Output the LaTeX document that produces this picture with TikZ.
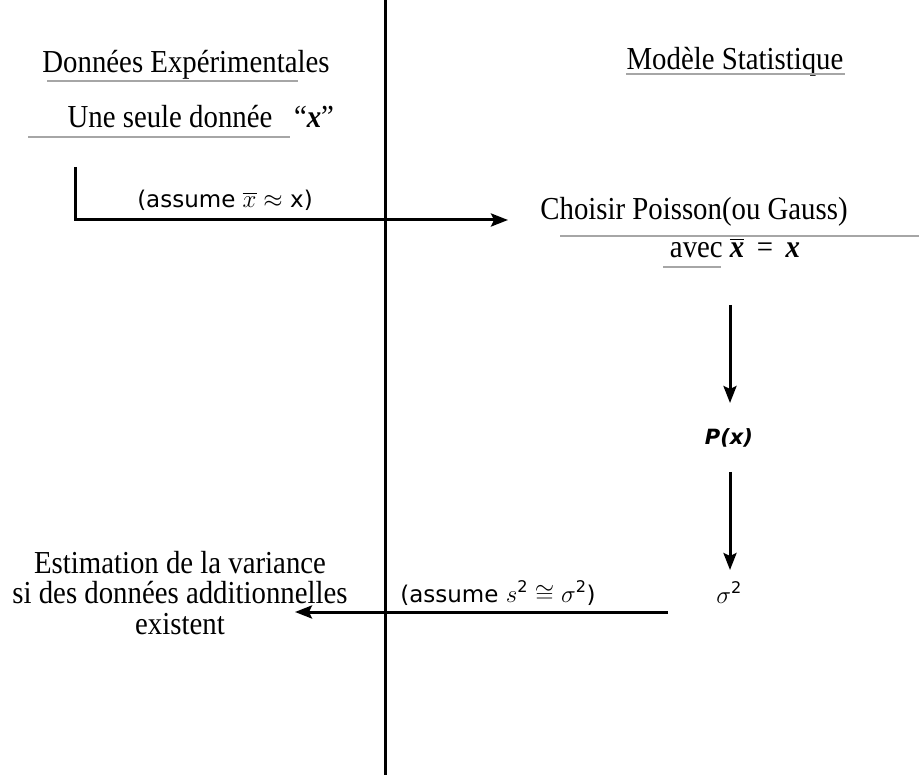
\documentclass[tikz,border=0pt]{standalone}
\usepackage{amsmath}
\usepackage{fontspec}
\setmainfont{Liberation Serif}[FakeStretch=0.9]
\setsansfont{DejaVu Sans}
\usetikzlibrary{arrows.meta}
\newcommand{\bx}{\textbf{\textit{x}}}
\begin{document}
\begin{tikzpicture}[x=1pt,y=-1pt,
  serif/.style={font=\fontsize{32}{36}\selectfont, inner sep=0pt, anchor=base},
  lab/.style={font=\sffamily\fontsize{23}{26}\selectfont, inner sep=0pt, anchor=base},
  uline/.style={draw=gray!70, line width=1.5pt},
  flow/.style={line width=3pt, -{Stealth[length=17pt,width=13pt,inset=3pt]}},
  axis/.style={line width=3pt}]
\useasboundingbox (0,0) rectangle (919,775);
% central axis
\coordinate (top) at (385,0);
\coordinate (bot) at (385,775);
\draw[axis] (top) -- (bot);
% headings
\node[serif] (de) at (186,73) {Données Expérimentales};
\draw[uline] (47,81) -- (298,81);
\node[serif] (ms) at (735,70) {Modèle Statistique};
\draw[uline] (626,74) -- (845,74);
\node[serif] (une) at (170,128) {Une seule donnée};
\node[serif] (qx) at (314,128) {``\bx''};
\draw[uline] (28,137) -- (290,137);
% first arrow
\coordinate (a0) at (75,167);
\coordinate (a1) at (75,220);
\coordinate (a2) at (508,220);
\draw[flow] (a0) -- (a1) -- (a2);
\node[lab] (l1) at (225,208) {(assume $\overline{x}\approx$ x)};
% Choisir
\node[serif] (ch) at (694,220) {Choisir Poisson(ou Gauss)};
\draw[uline] (560,236) -- (919,236);
\node[serif] (av) at (735,258) {avec $\overline{\hbox{\bx}}$\ \,=\ \,\bx};
\draw[uline] (663,267) -- (721,267);
% down arrows
\node[lab, font=\sffamily\bfseries\itshape\fontsize{21}{24}\selectfont] (px) at (729,445) {P(x)};
\node[lab] (sig) at (729,603) {$\sigma^{\mathsf{2}}$};
\draw[flow] (730,305) -- (730,403);
\draw[flow] (730,472) -- (730,570);
% bottom arrow
\coordinate (b0) at (668,612);
\coordinate (b1) at (295,612);
\draw[flow] (b0) -- (b1);
\node[lab] (l2) at (498,602) {(assume $s^{\mathsf{2}}\cong\sigma^{\mathsf{2}}$)};
\node[serif, anchor=north, align=center, font=\fontsize{32}{30.5}\selectfont] (est) at (180,551) {Estimation de la variance\\si des données additionnelles\\existent};
\end{tikzpicture}
\end{document}
